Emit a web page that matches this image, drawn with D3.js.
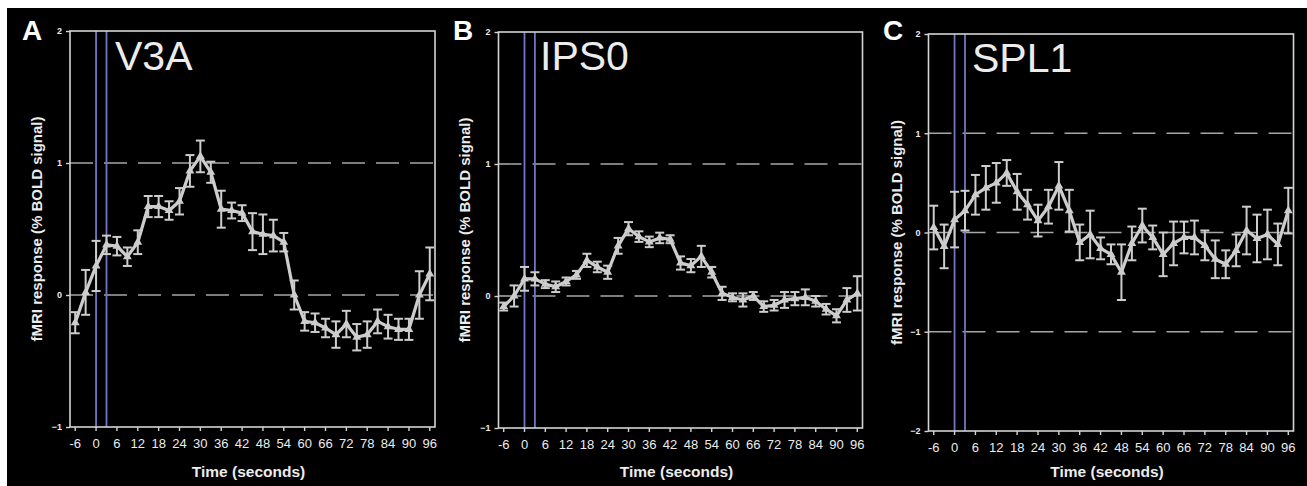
<!DOCTYPE html>
<html>
<head>
<meta charset="utf-8">
<script src="https://cdn.jsdelivr.net/npm/d3@7"></script>
<style>
  body { margin: 0; background: #fff; }
  svg { display: block; }
  text { font-family: "Liberation Sans", Arial, sans-serif; }
</style>
</head>
<body>
<svg id="chart" width="1307" height="486"></svg>
<script>
// Time points (seconds) of the event-related average, one every 3 s
const times = [-6, -3, 0, 3, 6, 9, 12, 15, 18, 21, 24, 27, 30, 33, 36, 39, 42, 45,
               48, 51, 54, 57, 60, 63, 66, 69, 72, 75, 78, 81, 84, 87, 90, 93, 96];
// Labelled ticks on the time axis
const tickLabels = ["-6", "0", "6", "12", "18", "24", "30", "36", "42", "48",
                    "54", "60", "66", "72", "78", "84", "90", "96"];
// Stimulus onset / offset markers
const stimulusTimes = [0, 3];

// V3A mean response and SEM (% BOLD signal)
const v3aMean = [-0.21, 0.02, 0.22, 0.38, 0.37, 0.29, 0.40, 0.67, 0.67, 0.64, 0.71, 0.94,
                 1.05, 0.93, 0.65, 0.64, 0.62, 0.48, 0.46, 0.45, 0.40, 0.00, -0.20, -0.21,
                 -0.25, -0.30, -0.22, -0.32, -0.30, -0.20, -0.24, -0.26, -0.26, 0.00, 0.16];
const v3aErr  = [0.08, 0.17, 0.19, 0.07, 0.07, 0.07, 0.09, 0.08, 0.08, 0.07, 0.10, 0.12,
                 0.12, 0.08, 0.14, 0.06, 0.06, 0.14, 0.15, 0.12, 0.07, 0.11, 0.07, 0.07,
                 0.07, 0.10, 0.10, 0.10, 0.10, 0.09, 0.09, 0.08, 0.08, 0.18, 0.20];

// IPS0 mean response and SEM
const ips0Mean = [-0.08, 0.00, 0.13, 0.13, 0.09, 0.07, 0.11, 0.16, 0.27, 0.22, 0.18, 0.38,
                  0.51, 0.45, 0.41, 0.44, 0.43, 0.25, 0.23, 0.30, 0.18, 0.02, -0.01, -0.03,
                  0.00, -0.08, -0.07, -0.03, -0.02, -0.01, -0.04, -0.10, -0.15, -0.03, 0.02];
const ips0Err  = [0.03, 0.08, 0.09, 0.05, 0.03, 0.04, 0.03, 0.03, 0.05, 0.04, 0.05, 0.06,
                  0.05, 0.04, 0.04, 0.04, 0.03, 0.05, 0.05, 0.08, 0.04, 0.05, 0.03, 0.05,
                  0.03, 0.04, 0.04, 0.06, 0.05, 0.06, 0.04, 0.04, 0.05, 0.09, 0.13];

// SPL1 mean response and SEM
const spl1Mean = [0.05, -0.14, 0.13, 0.22, 0.38, 0.45, 0.50, 0.60, 0.41, 0.28, 0.12, 0.26,
                  0.47, 0.22, -0.10, -0.02, -0.16, -0.22, -0.40, -0.11, 0.07, -0.05, -0.22, -0.11,
                  -0.05, -0.05, -0.13, -0.27, -0.32, -0.18, 0.02, -0.06, -0.02, -0.12, 0.22];
const spl1Err  = [0.22, 0.22, 0.28, 0.20, 0.20, 0.22, 0.20, 0.13, 0.18, 0.15, 0.16, 0.17,
                  0.24, 0.21, 0.18, 0.24, 0.11, 0.10, 0.28, 0.17, 0.17, 0.12, 0.22, 0.22,
                  0.16, 0.17, 0.15, 0.19, 0.14, 0.16, 0.24, 0.24, 0.25, 0.21, 0.23];

const yTitle = "fMRI response (% BOLD signal)";
const xTitle = "Time (seconds)";

const panels = [
  { letter: "A", region: "V3A", mean: v3aMean, err: v3aErr, yDomain: [-1, 2],
    box: { l: 70, r: 435, t: 31, b: 427 }, letterX: 22, titleX: 115, titleY: 70, yTitleX: 42 },
  { letter: "B", region: "IPS0", mean: ips0Mean, err: ips0Err, yDomain: [-1, 2],
    box: { l: 498.5, r: 862.5, t: 32, b: 428 }, letterX: 453, titleX: 540, titleY: 70, yTitleX: 470 },
  { letter: "C", region: "SPL1", mean: spl1Mean, err: spl1Err, yDomain: [-2, 2],
    box: { l: 928.5, r: 1293.5, t: 34, b: 431 }, letterX: 883, titleX: 972, titleY: 72, yTitleX: 902 }
];

const svg = d3.select("#chart");
svg.append("rect").attr("x", 7).attr("y", 8).attr("width", 1300).attr("height", 478).attr("fill", "#000");

const axisCol = "#d4d4d4";
const dataCol = "#cdcdcd";
const textCol = "#ececec";

panels.forEach(p => {
  const g = svg.append("g");
  const { l, r, t, b } = p.box;
  const x = d3.scaleBand().domain(times).range([l, r]).paddingInner(0).paddingOuter(0);
  const cx = d => x(d) + x.bandwidth() / 2;
  const y = d3.scaleLinear().domain(p.yDomain).range([b, t]);
  const yTicks = d3.range(p.yDomain[0], p.yDomain[1] + 1);

  // dashed reference lines at interior integer values
  g.selectAll(".grid").data(yTicks.filter(v => v > p.yDomain[0] && v < p.yDomain[1]))
    .enter().append("line")
    .attr("x1", l).attr("x2", r).attr("y1", d => y(d)).attr("y2", d => y(d))
    .attr("stroke", "#a6a6a6").attr("stroke-width", 1.6).attr("stroke-dasharray", "23,11");

  // stimulus markers
  g.selectAll(".stim").data(stimulusTimes).enter().append("line")
    .attr("x1", d => cx(d)).attr("x2", d => cx(d)).attr("y1", t).attr("y2", b)
    .attr("stroke", "#7474c4").attr("stroke-width", 1.8);

  // plot frame
  g.append("rect").attr("x", l).attr("y", t).attr("width", r - l).attr("height", b - t)
    .attr("fill", "none").attr("stroke", axisCol).attr("stroke-width", 1.6);

  // y axis
  const yAxis = d3.axisLeft(y).tickValues(yTicks).tickSize(4).tickPadding(4).tickFormat(d3.format("d"));
  const ya = g.append("g").attr("transform", `translate(${l},0)`).call(yAxis);
  ya.select(".domain").remove();
  ya.selectAll("line").attr("stroke", axisCol).attr("stroke-width", 1.4);
  ya.selectAll("text").attr("fill", textCol).style("font-size", "9px").style("font-weight", "bold");

  // x axis: labelled every 6 s
  const labelled = times.filter((d, i) => i % 2 === 0);
  const xAxis = d3.axisBottom(x).tickValues(labelled).tickSize(4).tickPadding(8)
    .tickFormat(d => tickLabels[labelled.indexOf(d)]);
  const xa = g.append("g").attr("transform", `translate(0,${b})`).call(xAxis);
  xa.select(".domain").remove();
  xa.selectAll("line").attr("stroke", axisCol).attr("stroke-width", 1.4);
  xa.selectAll("text").attr("fill", textCol).style("font-size", "13px");

  // error bars
  const eb = g.selectAll(".eb").data(times.map((tm, i) => ({ tm, m: p.mean[i], e: p.err[i] })))
    .enter().append("g").attr("stroke", dataCol).attr("stroke-width", 2);
  eb.append("line").attr("x1", d => cx(d.tm)).attr("x2", d => cx(d.tm))
    .attr("y1", d => y(d.m + d.e)).attr("y2", d => y(d.m - d.e));
  eb.append("line").attr("x1", d => cx(d.tm) - 4.5).attr("x2", d => cx(d.tm) + 4.5)
    .attr("y1", d => y(d.m + d.e)).attr("y2", d => y(d.m + d.e));
  eb.append("line").attr("x1", d => cx(d.tm) - 4.5).attr("x2", d => cx(d.tm) + 4.5)
    .attr("y1", d => y(d.m - d.e)).attr("y2", d => y(d.m - d.e));

  // mean time course
  const line = d3.line().x((d, i) => cx(times[i])).y(d => y(d));
  g.append("path").datum(p.mean).attr("d", line)
    .attr("fill", "none").attr("stroke", dataCol).attr("stroke-width", 3.2).attr("stroke-linejoin", "round");

  // point markers
  const tri = d3.symbol().type(d3.symbolTriangle).size(34);
  g.selectAll(".pt").data(p.mean).enter().append("path")
    .attr("d", tri).attr("transform", (d, i) => `translate(${cx(times[i])},${y(d)})`)
    .attr("fill", dataCol);

  // panel letter
  g.append("text").attr("x", p.letterX).attr("y", 40).text(p.letter)
    .attr("fill", "#fff").style("font-size", "28px").style("font-weight", "bold");

  // region name
  g.append("text").attr("x", p.titleX).attr("y", p.titleY).text(p.region)
    .attr("fill", textCol).style("font-size", "41px");

  // axis titles
  g.append("text").attr("transform", `translate(${p.yTitleX},${(t + b) / 2}) rotate(-90)`)
    .attr("text-anchor", "middle").text(yTitle)
    .attr("fill", textCol).style("font-size", "15px").style("font-weight", "bold");
  g.append("text").attr("x", (l + r) / 2 - 4).attr("y", 477).attr("text-anchor", "middle").text(xTitle)
    .attr("fill", textCol).style("font-size", "15.5px").style("font-weight", "bold");
});
</script>
</body>
</html>
